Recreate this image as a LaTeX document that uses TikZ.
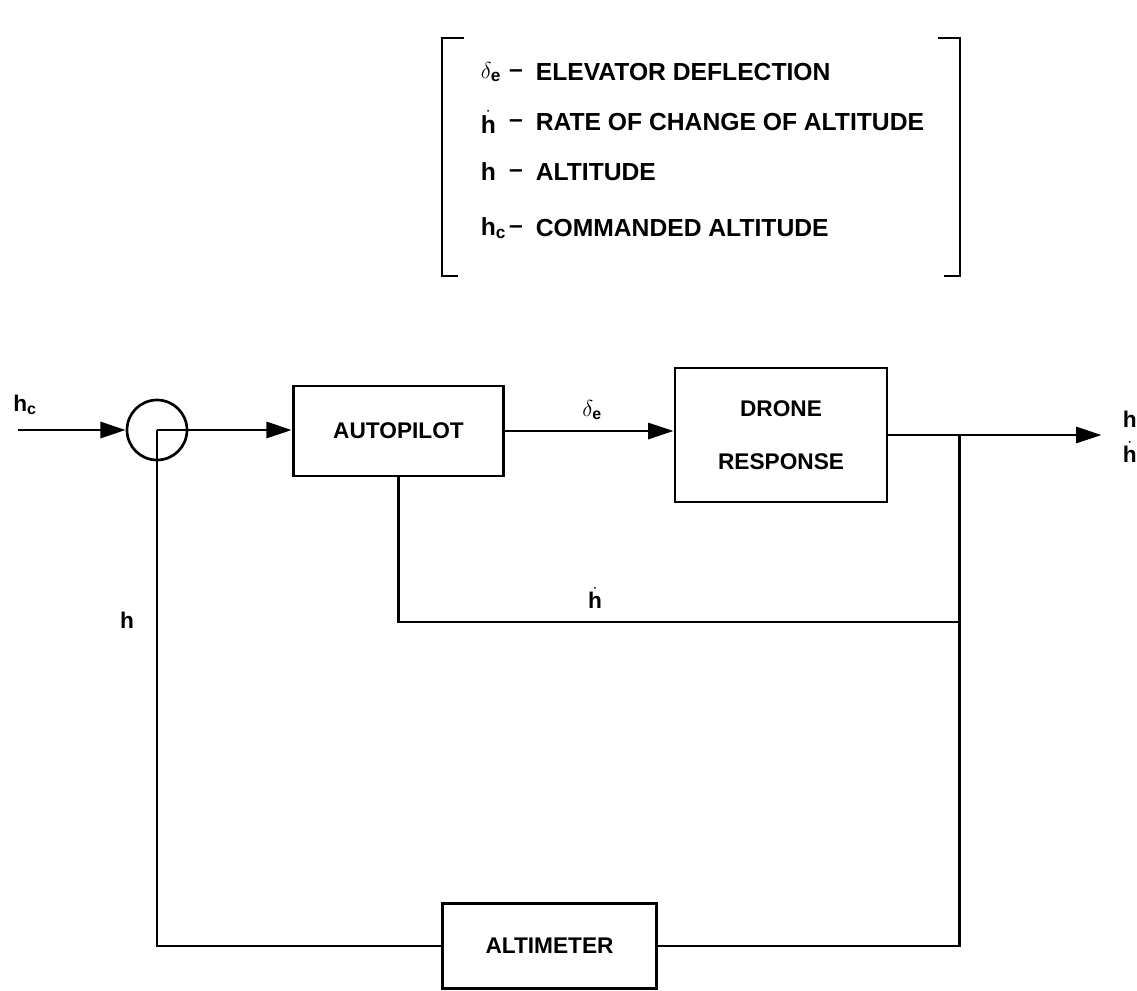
\documentclass[tikz,border=0pt]{standalone}
\usepackage{amsmath}
\usepackage{fontspec}
\setmainfont{Liberation Sans}
\usetikzlibrary{positioning, arrows.meta, calc}

\begin{document}
\begin{tikzpicture}[x=0.75pt, y=-0.75pt, line width=2.2pt,
        every node/.style={font=\fontsize{17}{20}\selectfont\bfseries, inner sep=1pt},
        legend/.style={font=\fontsize{18.5}{22}\selectfont\bfseries},
        block/.style={draw, rectangle, line width=2.2pt, align=center},
        sumnode/.style={draw, circle, minimum size=45pt, inner sep=0pt, line width=2pt},
        sig/.style={-{Triangle[length=19pt, width=12pt]}}]
    \useasboundingbox (0,0) rectangle (1137,990);

    % legend
    \draw (464,38) -- (442,38) -- (442,276) -- (458,276);
    \draw (938,38) -- (960,38) -- (960,276) -- (944,276);
    \foreach \i/\yy/\sym/\txt in {1/72/{$\delta_{\textbf{e}}$}/ELEVATOR DEFLECTION,
                                  2/122/{$\dot{\textbf{h}}$}/RATE OF CHANGE OF ALTITUDE,
                                  3/172/{h}/ALTITUDE,
                                  4/228/{$\textbf{h}_{\textbf{c}}$}/COMMANDED ALTITUDE} {
        \node[legend, anchor=west] (sym\i) at (478,\yy) {\sym};
        \node[legend] (dash\i) at (516,\yy+2) {--};
        \node[legend, anchor=west] (txt\i) at (533,\yy) {\txt};
    }

    % blocks
    \node[sumnode] (sum) at (157,430) {};
    \node[block, minimum width=158pt, minimum height=67.5pt] (auto) at (398.5,431) {AUTOPILOT};
    \node[block, minimum width=159pt, minimum height=100.5pt] (drone) at (781,435) {DRONE\\[20pt]RESPONSE};
    \node[block, minimum width=160pt, minimum height=64pt] (alt) at (549.5,946) {ALTIMETER};

    \coordinate (in) at (18,430);
    \path (drone.east) ++(71,0) coordinate (tap) ++(142,0) coordinate (out);
    \coordinate (rateturn) at ($(tap)+(0,187)$);

    % signal lines
    \draw[sig] (in) -- (sum.west);
    \draw[sig] (sum.center) -- (sum.center -| auto.west);
    \draw[sig] (auto.east) -- (auto.east -| drone.west);
    \draw[sig] (drone.east) -- (out);
    \draw (tap) |- (alt.east);
    \draw (rateturn) -| (auto.south);
    \draw (alt.west) -| (sum.center);

    % labels
    \node (hc) at (25,405) {$\textbf{h}_{\textbf{c}}$};
    \node (de) at (592,410) {$\delta_{\textbf{e}}$};
    \node (hdot) at (595,598) {$\dot{\textbf{h}}$};
    \node (hfb) at (127,620) {h};
    \node[anchor=west] (hout) at (1120,419) {h};
    \node[anchor=west] (hdotout) at (1120,452) {$\dot{\textbf{h}}$};
\end{tikzpicture}
\end{document}
